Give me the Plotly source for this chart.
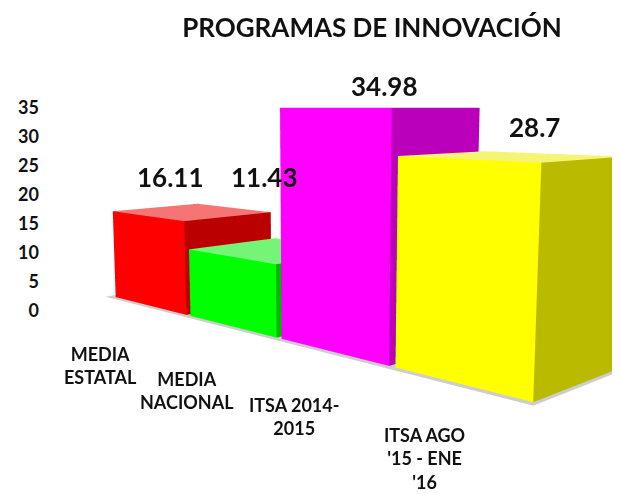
import numpy as np
import plotly.graph_objects as go

# ---- data ----
title_text = "PROGRAMAS DE INNOVACIÓN"
categories = ["MEDIA<br>ESTATAL", "MEDIA<br>NACIONAL", "ITSA 2014-<br>2015", "ITSA AGO<br>'15 - ENE<br>'16"]
values = [16.11, 11.43, 34.98, 28.7]
value_labels = ["16.11", "11.43", "34.98", "28.7"]
bar_colors = ["#FF0000", "#00FF00", "#FF00FF", "#FFFF00"]
y_ticks = [0, 5, 10, 15, 20, 25, 30, 35]

# page body has an 8px margin: the figure fills the rest of the 620x494 window
OFF = 8
W, H = 620 - OFF, 494 - OFF
FONT = "Lato"
INK = "#111111"


def px_x(p):
    return (p - OFF) / W


def px_y(p):
    return 1 - (p - OFF) / H


def hex_rgb(h):
    h = h.lstrip("#")
    return tuple(int(h[i:i + 2], 16) for i in (0, 2, 4))


def shade(h, f):
    r, g, b = hex_rgb(h)
    return "rgb(%d,%d,%d)" % (r * f, g * f, b * f)


def tint(h, t):
    r, g, b = hex_rgb(h)
    return "rgb(%d,%d,%d)" % (r + (235 - r) * t, g + (235 - g) * t, b + (235 - b) * t)


# ---- 3D view (world units: one category step = 1) ----
ZK = 0.0436          # world height per value unit
DEPTH = 0.85
BAR_W = 0.95
AZ = np.radians(45)
DIST = 6.5
EYE_H = 35 * ZK
TAN_PITCH = 0.152
F_TARGET = 915.0     # focal length (px) of the original view
F_PLOTLY = 1.11 * H  # plotly's own focal length (px)

n = len(values)
tgt_plan = np.array([(n - 1) / 2, DEPTH / 2])
cam_plan = tgt_plan + DIST * np.array([np.sin(AZ), -np.cos(AZ)])
C = np.array([cam_plan[0], cam_plan[1], EYE_H])
fh = (tgt_plan - cam_plan) / np.linalg.norm(tgt_plan - cam_plan)
Fv = np.array([fh[0], fh[1], -TAN_PITCH])
Fv /= np.linalg.norm(Fv)
T = C + Fv * DIST
S = F_TARGET / F_PLOTLY


def narrow_fov(P):
    # stretch across the line of sight so plotly's wider lens gives the original framing
    r = P - C
    return C + S * r + (1 - S) * np.dot(r, Fv) * Fv


def box(x0, x1, y0, y1, z0, z1):
    corners = [(x0, y0, z0), (x1, y0, z0), (x1, y1, z0), (x0, y1, z0),
               (x0, y0, z1), (x1, y0, z1), (x1, y1, z1), (x0, y1, z1)]
    return np.array([narrow_fov(np.array(p, dtype=float)) for p in corners])


fig = go.Figure()
meshes = []

# soft floor shadow under the row of bars
floor_pts = box(-BAR_W / 2 - 0.08, n - 1 + BAR_W / 2 + 0.03, -0.045, DEPTH, -0.004, -0.002)
floor_col = "rgb(205,205,205)"
meshes.append((floor_pts, [(4, 5, 6, floor_col), (4, 6, 7, floor_col)]))

for i, (v, c) in enumerate(zip(values, bar_colors)):
    pts = box(i - BAR_W / 2, i + BAR_W / 2, 0.0, DEPTH, 0.0, v * ZK)
    side = shade(c, 0.73)
    top = tint(c, 0.5)
    faces = [
        (0, 1, 5, c), (0, 5, 4, c),          # front
        (1, 2, 6, side), (1, 6, 5, side),    # right side
        (4, 5, 6, top), (4, 6, 7, top),      # top
        (0, 3, 7, side), (0, 7, 4, side),    # left
        (3, 2, 6, side), (3, 6, 7, side),    # back
    ]
    meshes.append((pts, faces))

allp = np.vstack([m[0] for m in meshes])
lo, hi = allp.min(axis=0), allp.max(axis=0)
pad = (hi - lo) * 0.03
lo, hi = lo - pad, hi + pad
mid = (lo + hi) / 2
span = hi - lo
cs = 1.0 / span.max()

for pts, faces in meshes:
    fig.add_trace(go.Mesh3d(
        x=pts[:, 0], y=pts[:, 1], z=pts[:, 2],
        i=[f[0] for f in faces], j=[f[1] for f in faces], k=[f[2] for f in faces],
        facecolor=[f[3] for f in faces],
        flatshading=True,
        lighting=dict(ambient=1.0, diffuse=0.0, specular=0.0, roughness=1.0, fresnel=0.0),
        hoverinfo="skip", showscale=False,
    ))

eye = (C - mid) * cs
ctr = (T - mid) * cs

# invisible trace to carry the 2D value axis
fig.add_trace(go.Scatter(x=[0, 0], y=[y_ticks[0], y_ticks[-1]], mode="markers",
                         marker=dict(opacity=0), hoverinfo="skip", showlegend=False,
                         xaxis="x", yaxis="y"))

fig.update_layout(
    width=W, height=H,
    margin=dict(l=0, r=0, t=0, b=0),
    paper_bgcolor="white", plot_bgcolor="rgba(0,0,0,0)",
    showlegend=False,
    title=dict(text=title_text, x=px_x(372), y=px_y(28),
               xanchor="center", yanchor="middle",
               font=dict(family=FONT, size=26, color=INK, weight="bold")),
    scene=dict(
        domain=dict(x=[(2 * 324 - 2 * OFF) / W - 1, 1], y=[0, 1]),
        xaxis=dict(visible=False, range=[lo[0], hi[0]]),
        yaxis=dict(visible=False, range=[lo[1], hi[1]]),
        zaxis=dict(visible=False, range=[lo[2], hi[2]]),
        aspectmode="manual",
        aspectratio=dict(x=span[0] * cs, y=span[1] * cs, z=span[2] * cs),
        camera=dict(
            projection=dict(type="perspective"),
            eye=dict(x=eye[0], y=eye[1], z=eye[2]),
            center=dict(x=ctr[0], y=ctr[1], z=ctr[2]),
            up=dict(x=0, y=0, z=1),
        ),
        bgcolor="rgba(0,0,0,0)",
    ),
    xaxis=dict(domain=[px_x(40), px_x(56)], visible=False, range=[-1, 1], fixedrange=True),
    yaxis=dict(domain=[px_y(312), px_y(99.5)], range=[0, 35], tickvals=y_ticks,
               showgrid=False, zeroline=False, showline=False, ticks="",
               tickfont=dict(family=FONT, size=18, color=INK, weight="bold"),
               fixedrange=True),
)

# value labels
label_pos = [(170, 172), (264, 172), (384, 77), (534, 120)]
for txt, (lx, ly) in zip(value_labels, label_pos):
    fig.add_annotation(text=txt, x=px_x(lx), y=px_y(ly), xref="paper", yref="paper",
                       showarrow=False, xanchor="center", yanchor="middle",
                       font=dict(family=FONT, size=26, color=INK, weight="bold"))

# category labels
cat_pos = [(101, 370), (187, 396), (294, 423), (424, 467)]
for txt, (cx, cy) in zip(categories, cat_pos):
    fig.add_annotation(text=txt, x=px_x(cx), y=px_y(cy), xref="paper", yref="paper",
                       showarrow=False, xanchor="center", yanchor="middle", align="center",
                       font=dict(family=FONT, size=18, color=INK, weight="bold"))

fig.write_html("out.html")
